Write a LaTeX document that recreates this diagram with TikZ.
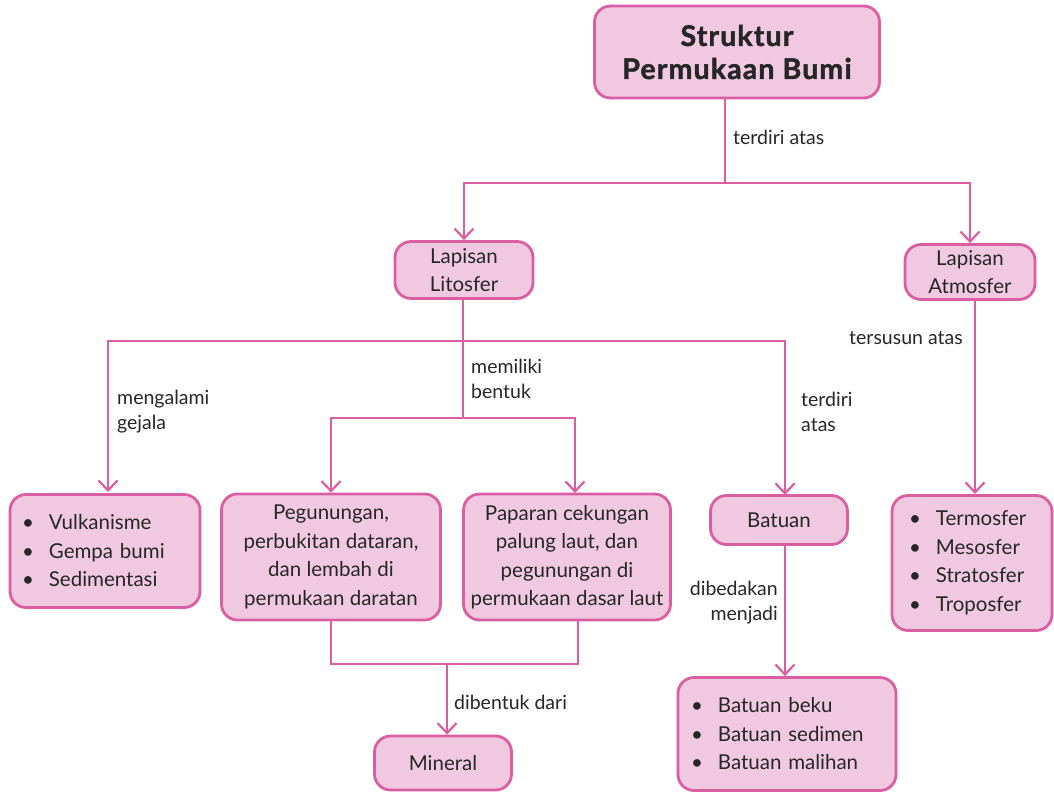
\documentclass[tikz,border=0pt]{standalone}
\usepackage{fontspec}
\setmainfont{Lato}
\newfontfamily\judulfont[FakeBold=1.6,LetterSpace=4]{Lato Bold}
\usetikzlibrary{arrows.meta}
\definecolor{boxfill}{HTML}{F0C9E1}
\definecolor{boxline}{HTML}{DB5EA3}
\tikzset{
  box/.style={draw=boxline, fill=boxfill, line width=2.8pt, rounded corners=16pt,
    font=\fontsize{20.5}{28.5}\selectfont, text=black!85, inner sep=0pt},
  listbox/.style={box, align=left},
  link/.style={draw=boxline, line width=2.8pt},
  arr/.style={link, -{Straight Barb[length=10pt,width=19pt,line width=2.2pt]}},
  lbl/.style={font=\fontsize{19.5}{25}\selectfont, text=black!85, inner sep=0pt}
}
\newcommand{\itm}{\textbullet\hspace{15pt}}
\begin{document}
\begin{tikzpicture}[x=1pt,y=-1pt]
\useasboundingbox (0,0) rectangle (1054,793);

% kotak-kotak
\node[box, minimum width=285pt, minimum height=92pt, align=center,
      font=\judulfont\fontsize{28.5}{33}\selectfont] (struktur) at (737,52) {Struktur\\Permukaan Bumi};
\node[box, minimum width=138pt, minimum height=57pt, align=center] (lito) at (464,270) {Lapisan\\Litosfer};
\node[box, minimum width=130pt, minimum height=55pt, align=center] (atmo) at (970,272) {Lapisan\\Atmosfer};
\node[listbox, minimum width=190pt, minimum height=113pt, text width=166pt] (gejala) at (105,551)
  {\itm Vulkanisme\\\itm Gempa bumi\\\itm Sedimentasi};
\node[box, minimum width=219pt, minimum height=126pt, align=center] (darat) at (331,557)
  {Pegunungan,\\perbukitan dataran,\\dan lembah di\\permukaan daratan};
\node[box, minimum width=207pt, minimum height=126pt, align=center] (laut) at (567,557)
  {Paparan cekungan\\palung laut, dan\\pegunungan di\\permukaan dasar laut};
\node[box, minimum width=137pt, minimum height=49pt] (batuan) at (779,520) {Batuan};
\node[box, minimum width=137pt, minimum height=54pt] (mineral) at (443,763) {Mineral};
\node[listbox, minimum width=218pt, minimum height=113pt, text width=192pt] (jenis) at (787,734)
  {\itm Batuan beku\\\itm Batuan sedimen\\\itm Batuan malihan};
\node[listbox, minimum width=160pt, minimum height=135pt, text width=126pt] (lapisan) at (972,563)
  {\itm Termosfer\\\itm Mesosfer\\\itm Stratosfer\\\itm Troposfer};

% titik cabang
\coordinate (c1) at (725,183);
\coordinate (c2) at (463,341);
\coordinate (c3) at (463,418);
\coordinate (c4) at (447,664);

% garis penghubung
\draw[link] (struktur.south -| c1) -- (c1);
\draw[arr] (c1) -| (lito.north);
\draw[arr] (c1) -| (atmo.north);
\draw[link] (lito.south -| c2) -- (c2) -- (c3);
\draw[arr] (c2) -| (108,492);
\draw[arr] (c2) -| (785,495);
\draw[arr] (c3) -| (darat.north);
\draw[arr] (c3) -| (575,493);
\draw[link] (darat.south) |- (c4);
\draw[link] (578,619) |- (c4);
\draw[arr] (c4) -- (mineral.north -| c4);
\draw[arr] (batuan.south -| 785,0) -- (jenis.north -| 785,0);
\draw[arr] (atmo.south -| 975,0) -- (975,494);

% label
\node[lbl, anchor=west] (l1) at (733,137) {terdiri atas};
\node[lbl, anchor=west, align=left] (l2) at (117,412) {mengalami\\gejala};
\node[lbl, anchor=west, align=left] (l3) at (471,379) {memiliki\\bentuk};
\node[lbl, anchor=west, align=left] (l4) at (801,412) {terdiri\\atas};
\node[lbl, anchor=west] (l5) at (849,338) {tersusun atas};
\node[lbl, anchor=east, align=right] (l6) at (778,603) {dibedakan\\menjadi};
\node[lbl, anchor=west] (l7) at (454,702) {dibentuk dari};
\end{tikzpicture}
\end{document}
